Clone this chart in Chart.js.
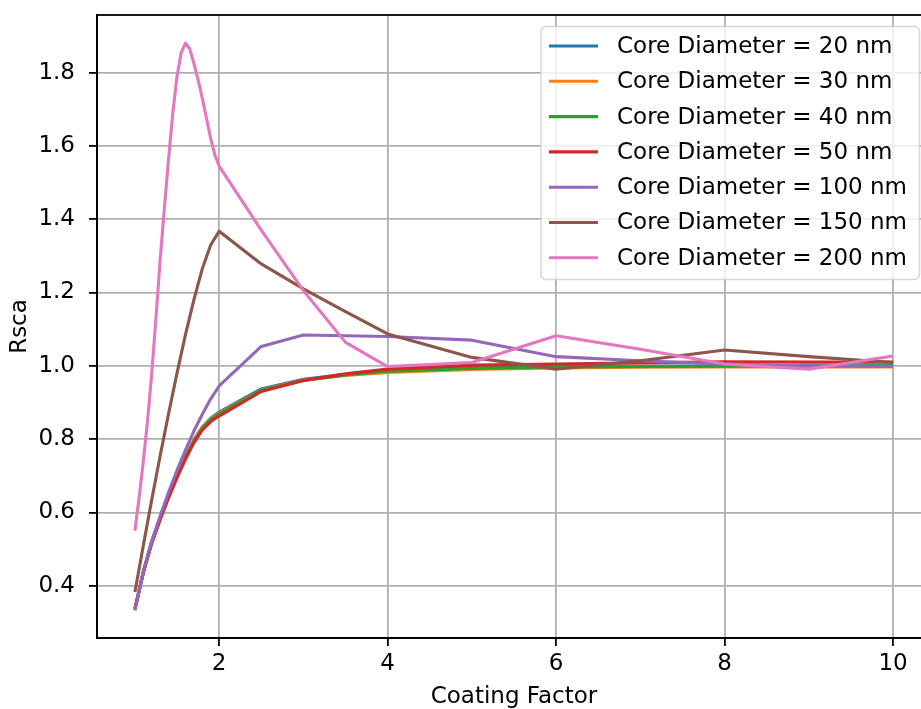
<!DOCTYPE html>
<html><head><meta charset="utf-8">
<script src="https://cdn.jsdelivr.net/npm/chart.js@4.4.1/dist/chart.umd.min.js"></script>
<style>html,body{margin:0;padding:0;overflow:hidden;background:#fff}canvas{display:block}</style>
</head><body>
<canvas id="c" width="940" height="709" style="width:940px;height:709px"></canvas>
<script>
const coatingFactor = [1.0, 1.1, 1.2, 1.3, 1.4, 1.5, 1.6, 1.7, 1.8, 1.9, 2.0, 2.5, 3.0, 3.5, 4, 5, 6, 7, 8, 9, 10];
const coatingFactor200 = [1.0, 1.05, 1.1, 1.15, 1.2, 1.25, 1.3, 1.35, 1.4, 1.45, 1.5, 1.55, 1.6, 1.65, 1.7, 1.75, 1.8, 1.85, 1.9, 1.95, 2.0, 2.5, 3.0, 3.5, 4, 5, 6, 7, 8, 9, 10];
const rsca20  = [0.338, 0.440, 0.522, 0.588, 0.648, 0.703, 0.753, 0.798, 0.833, 0.857, 0.874, 0.937, 0.963, 0.977, 0.986, 0.995, 0.998, 0.999, 1.000, 1.000, 1.000];
const rsca30  = [0.337, 0.438, 0.520, 0.586, 0.646, 0.701, 0.751, 0.796, 0.831, 0.855, 0.871, 0.934, 0.961, 0.974, 0.982, 0.990, 0.994, 0.996, 0.997, 0.997, 0.997];
const rsca40  = [0.336, 0.437, 0.518, 0.584, 0.644, 0.699, 0.749, 0.794, 0.829, 0.853, 0.869, 0.933, 0.960, 0.975, 0.985, 0.993, 0.997, 0.998, 0.999, 1.000, 1.000];
const rsca50  = [0.335, 0.435, 0.515, 0.580, 0.640, 0.695, 0.745, 0.790, 0.825, 0.848, 0.863, 0.930, 0.960, 0.978, 0.991, 1.002, 1.005, 1.008, 1.011, 1.010, 1.010];
const rsca100 = [0.333, 0.437, 0.520, 0.590, 0.655, 0.715, 0.770, 0.822, 0.868, 0.910, 0.945, 1.053, 1.084, 1.082, 1.080, 1.070, 1.025, 1.014, 1.005, 1.000, 0.998];
const rsca150 = [0.383, 0.510, 0.635, 0.755, 0.870, 0.980, 1.085, 1.180, 1.265, 1.330, 1.367, 1.278, 1.210, 1.148, 1.087, 1.023, 0.991, 1.014, 1.043, 1.025, 1.009];
const rsca200 = [0.550, 0.640, 0.740, 0.850, 0.980, 1.130, 1.290, 1.430, 1.565, 1.690, 1.790, 1.855, 1.880, 1.865, 1.825, 1.780, 1.730, 1.675, 1.620, 1.575, 1.545, 1.370, 1.205, 1.064, 0.998, 1.009, 1.082, 1.045, 1.005, 0.991, 1.027];
const seriesLabels = ['Core Diameter = 20 nm', 'Core Diameter = 30 nm', 'Core Diameter = 40 nm', 'Core Diameter = 50 nm', 'Core Diameter = 100 nm', 'Core Diameter = 150 nm', 'Core Diameter = 200 nm'];
const seriesColors = ['#1f77b4', '#ff7f0e', '#2ca02c', '#d62728', '#9467bd', '#8c564b', '#e377c2'];
const xTickValues = [2, 4, 6, 8, 10];
const yTickValues = [0.4, 0.6, 0.8, 1.0, 1.2, 1.4, 1.6, 1.8];
const xTitle = 'Coating Factor';
const yTitle = 'Rsca';

const seriesValues = [rsca20, rsca30, rsca40, rsca50, rsca100, rsca150, rsca200];
const seriesX = [coatingFactor, coatingFactor, coatingFactor, coatingFactor, coatingFactor, coatingFactor, coatingFactor200];
const FONT = 'DejaVu Sans';
const FS = 23;

const datasets = seriesValues.map((vals, i) => ({
  label: seriesLabels[i],
  data: seriesX[i].map((x, j) => ({x: x, y: vals[j]})),
  borderColor: seriesColors[i],
  backgroundColor: seriesColors[i],
  borderWidth: 3.1,
  pointRadius: 0,
  tension: 0,
  fill: false,
  borderJoinStyle: 'round',
  borderCapStyle: 'butt',
  order: seriesValues.length - 1 - i
}));

const framePlugin = {
  id: 'frame',
  afterDatasetsDraw(chart) {
    const {ctx, chartArea: a} = chart;
    ctx.save();
    ctx.strokeStyle = '#000';
    ctx.lineWidth = 1.8;
    ctx.strokeRect(a.left, a.top, a.right - a.left, a.bottom - a.top);
    ctx.restore();
  }
};

const legendPlugin = {
  id: 'mplLegend',
  afterDraw(chart) {
    const {ctx, chartArea: a} = chart;
    const boxRight = a.right - 11.5;
    const boxTop = a.top + 11.5;
    const boxLeft = 541;
    const rowH = 35.3;
    const boxH = 253;
    ctx.save();
    ctx.beginPath();
    ctx.roundRect(boxLeft, boxTop, boxRight - boxLeft, boxH, 5);
    ctx.fillStyle = 'rgba(255,255,255,0.8)';
    ctx.fill();
    ctx.strokeStyle = 'rgba(204,204,204,0.8)';
    ctx.lineWidth = 1.5;
    ctx.stroke();
    ctx.font = FS + 'px "' + FONT + '"';
    ctx.textBaseline = 'middle';
    ctx.textAlign = 'left';
    seriesLabels.forEach((lab, i) => {
      const y = boxTop + 19.5 + i * rowH;
      ctx.beginPath();
      ctx.moveTo(549, y);
      ctx.lineTo(598, y);
      ctx.strokeStyle = seriesColors[i];
      ctx.lineWidth = 3.1;
      ctx.stroke();
      ctx.fillStyle = '#000';
      ctx.fillText(lab, 617, y + 1);
    });
    ctx.restore();
  }
};

new Chart(document.getElementById('c'), {
  type: 'line',
  data: {datasets},
  options: {
    responsive: false,
    animation: false,
    devicePixelRatio: 1,
    layout: {padding: {left: 0, top: 15, right: 9, bottom: 0}},
    plugins: {legend: {display: false}, tooltip: {enabled: false}},
    scales: {
      x: {
        type: 'linear',
        min: 0.55, max: 10.45,
        afterBuildTicks: s => { s.ticks = xTickValues.map(v => ({value: v})); },
        afterFit: s => { s.height = 71; s.paddingLeft = 0; s.paddingRight = 0; },
        ticks: {font: {family: FONT, size: FS}, color: '#000', padding: 4, maxRotation: 0, callback: v => String(v)},
        grid: {color: '#b0b0b0', lineWidth: 1.8, tickColor: '#000', tickLength: 8, tickWidth: 1.8},
        border: {color: '#000', width: 1.8},
        title: {display: true, text: xTitle, font: {family: FONT, size: FS, lineHeight: 1.0}, color: '#000', padding: {top: 0, bottom: 0}}
      },
      y: {
        type: 'linear',
        min: 0.2575, max: 1.957,
        afterBuildTicks: s => { s.ticks = yTickValues.map(v => ({value: v})); },
        afterFit: s => { s.width = 97; s.paddingTop = 0; s.paddingBottom = 0; },
        ticks: {font: {family: FONT, size: FS}, color: '#000', padding: 14, callback: v => Number(v).toFixed(1)},
        grid: {color: '#b0b0b0', lineWidth: 1.8, tickColor: '#000', tickLength: 8, tickWidth: 1.8},
        border: {color: '#000', width: 1.8},
        title: {display: true, text: yTitle, font: {family: FONT, size: FS}, color: '#000', padding: {top: 6, bottom: 0}}
      }
    }
  },
  plugins: [framePlugin, legendPlugin]
});
</script>
</body></html>
